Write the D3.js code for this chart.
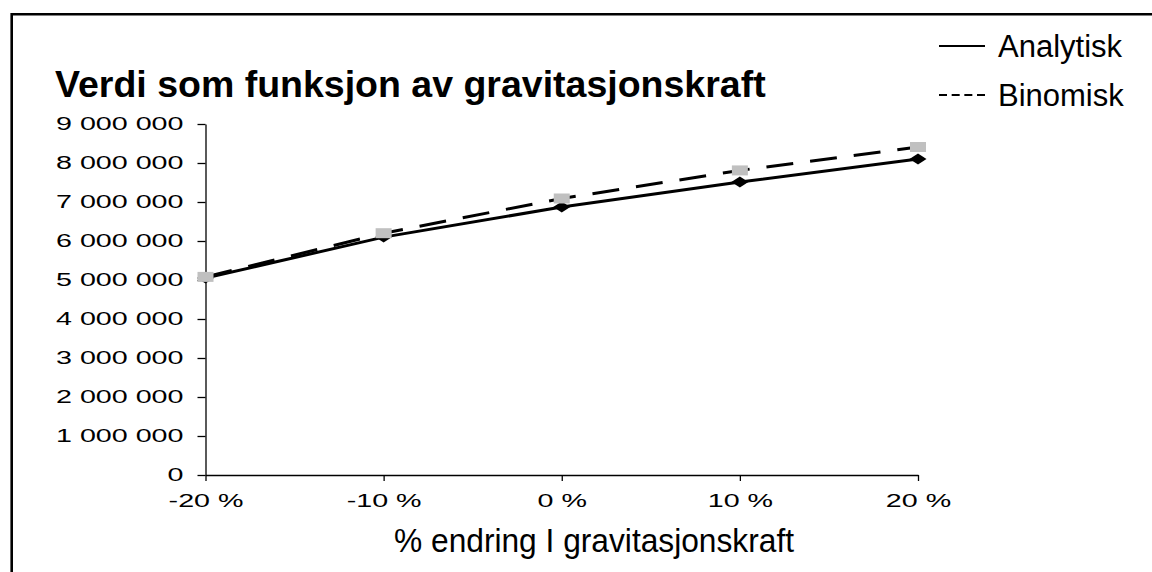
<!DOCTYPE html>
<html>
<head>
<meta charset="utf-8">
<script src="https://cdn.jsdelivr.net/npm/d3@7"></script>
<style>
  html, body { margin: 0; padding: 0; background: #fff; }
  svg { display: block; font-family: "Liberation Sans", Arial, sans-serif; }
</style>
</head>
<body>
<svg id="chart" width="1152" height="572"></svg>
<script>
// Chart data
const categories = ["-20 %", "-10 %", "0 %", "10 %", "20 %"];
const analytisk = [5050000, 6100000, 6870000, 7510000, 8100000];
const binomisk = [5080000, 6200000, 7090000, 7810000, 8410000];
const yTicks = [0, 1000000, 2000000, 3000000, 4000000, 5000000, 6000000, 7000000, 8000000, 9000000];
const seriesNames = ["Analytisk", "Binomisk"];
const titleText = "Verdi som funksjon av gravitasjonskraft";
const xAxisTitle = "% endring I gravitasjonskraft";

const svg = d3.select("#chart");
const W = 1152, H = 572;
const plot = { left: 205.5, right: 918, top: 124, bottom: 475 };

// Outer frame (runs off the right and bottom edges)
svg.append("path")
  .attr("d", `M11.7,${H + 5} V14.2 H${W + 5}`)
  .attr("fill", "none")
  .attr("stroke", "#000")
  .attr("stroke-width", 2.6);

const x = d3.scalePoint().domain(categories).range([plot.left, plot.right]);
const y = d3.scaleLinear().domain([0, 9000000]).range([plot.bottom, plot.top]);

const nbLocale = d3.formatLocale({ decimal: ",", thousands: " ", grouping: [3], currency: ["", " kr"] });
const fmt = nbLocale.format(",.0f");

const tickFont = 18.5;
const tickStretch = 1.55;

// Y axis
const yAxis = svg.append("g")
  .attr("transform", `translate(${plot.left},0)`)
  .call(d3.axisLeft(y).tickValues(yTicks).tickFormat(fmt).tickSize(8).tickSizeOuter(0).tickPadding(14));
yAxis.select(".domain").attr("stroke-width", 1.3);
yAxis.selectAll(".tick line").attr("stroke-width", 1.3);
yAxis.selectAll(".tick text")
  .attr("font-size", tickFont)
  .attr("font-family", "Liberation Sans, Arial, sans-serif")
  .attr("fill", "#000")
  .each(function () {
    const t = d3.select(this);
    const tx = +t.attr("x");
    t.attr("x", 0).attr("transform", `translate(${tx},0) scale(${tickStretch},1)`);
  });

// X axis
const xAxis = svg.append("g")
  .attr("transform", `translate(0,${plot.bottom})`)
  .call(d3.axisBottom(x).tickSize(6).tickSizeOuter(0).tickPadding(13));
xAxis.select(".domain").attr("stroke-width", 1.3);
xAxis.selectAll(".tick line").attr("stroke-width", 1.3);
xAxis.selectAll(".tick text")
  .attr("font-size", tickFont)
  .attr("font-family", "Liberation Sans, Arial, sans-serif")
  .attr("fill", "#000")
  .each(function () {
    const t = d3.select(this);
    const ty = +t.attr("y");
    t.attr("y", 0).attr("transform", `translate(0,${ty}) scale(${tickStretch},1)`);
  });

// Series lines
const line = d3.line()
  .x((d, i) => x(categories[i]))
  .y(d => y(d));

svg.append("path")
  .datum(analytisk)
  .attr("d", line)
  .attr("fill", "none")
  .attr("stroke", "#000")
  .attr("stroke-width", 3);

svg.append("g").selectAll("path")
  .data(analytisk)
  .join("path")
  .attr("d", "M0,-5.5 L8.5,0 L0,5.5 L-8.5,0 Z")
  .attr("transform", (d, i) => `translate(${x(categories[i])},${y(d)})`)
  .attr("fill", "#000");

svg.append("path")
  .datum(binomisk)
  .attr("d", line)
  .attr("fill", "none")
  .attr("stroke", "#000")
  .attr("stroke-width", 3)
  .attr("stroke-dasharray", "27,17");

svg.append("g").selectAll("rect")
  .data(binomisk)
  .join("rect")
  .attr("x", (d, i) => x(categories[i]) - 8)
  .attr("y", d => y(d) - 5)
  .attr("width", 16)
  .attr("height", 10)
  .attr("fill", "#c0c0c0");

// Title
svg.append("text")
  .attr("x", 55)
  .attr("y", 97)
  .attr("font-size", 37.5)
  .attr("font-weight", "bold")
  .attr("fill", "#000")
  .text(titleText);

// X axis title
svg.append("text")
  .attr("x", 594)
  .attr("y", 552)
  .attr("text-anchor", "middle")
  .attr("font-size", 33)
  .attr("textLength", 400)
  .attr("lengthAdjust", "spacingAndGlyphs")
  .attr("fill", "#000")
  .text(xAxisTitle);

// Legend
const legend = svg.append("g");
const legendRows = [
  { name: seriesNames[0], y: 46, dash: null },
  { name: seriesNames[1], y: 95, dash: "8,4.67" }
];
legendRows.forEach(r => {
  legend.append("line")
    .attr("x1", 939).attr("x2", 985)
    .attr("y1", r.y).attr("y2", r.y)
    .attr("stroke", "#000")
    .attr("stroke-width", 2)
    .attr("stroke-dasharray", r.dash);
  legend.append("text")
    .attr("x", 998)
    .attr("y", r.y + 10.5)
    .attr("font-size", 31)
    .attr("fill", "#000")
    .text(r.name);
});
</script>
</body>
</html>
